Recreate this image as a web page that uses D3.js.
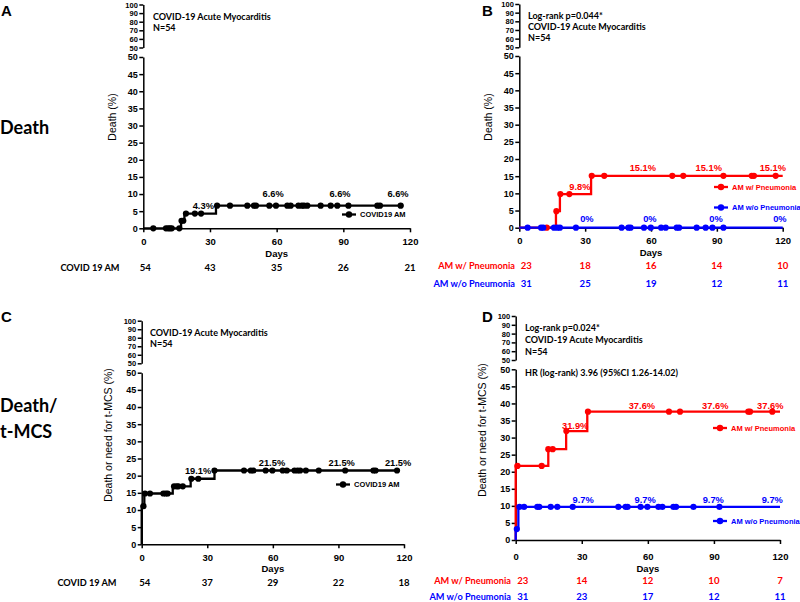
<!DOCTYPE html>
<html>
<head>
<meta charset="utf-8">
<script src="https://cdn.jsdelivr.net/npm/d3@7"></script>
<style>
body { margin: 0; background: #fff; }
</style>
</head>
<body>
<script>
var width = 800;
var height = 602;

// shared axes
var dayTicks = [0, 30, 60, 90, 120];
var lowTicks = [0, 5, 10, 15, 20, 25, 30, 35, 40, 45, 50];
var highTicks = [50, 60, 70, 80, 90, 100];

// A - death, all patients
var deathAllDays = [17, 18.5, 32.7];
var deathAllPct = [2.2, 4.3, 6.6];
var deathAllEnd = 117;
var deathAllCensor = [4.5, 10.2, 11.2, 12, 12.8, 16.2, 17.2, 18, 19.2, 23.2, 26, 33.2, 39, 46.8, 49.8, 50.7,
  56.7, 59.7, 64.8, 66.3, 69.8, 71.3, 72.3, 73.8, 79.8, 84.3, 87.3, 92.3, 105.3, 106.5, 115.8];
var deathAllLabels = ["4.3%", "6.6%", "6.6%", "6.6%"];
var deathAllLabelDays = [27, 58.4, 88.5, 114.6];
var deathAllLabelPct = [4.3, 6.6, 6.6, 6.6];
var deathAllRisk = [54, 43, 35, 26, 21];

// B - death, with / without pneumonia
var deathPnDays = [16.7, 18.5, 32.7];
var deathPnPct = [4.8, 9.8, 15.1];
var deathPnCensor = [12.5, 16.9, 18.7, 22.8, 33, 38.7, 69.7, 74.7, 93, 105.9, 106.9, 116.8];
var deathPnLabels = ["9.8%", "15.1%", "15.1%", "15.1%"];
var deathPnLabelDays = [27.6, 56.3, 86.3, 115.5];
var deathPnLabelPct = [9.8, 15.1, 15.1, 15.1];
var deathPnRisk = [23, 18, 16, 14, 10];

var deathNoPnDays = [];
var deathNoPnPct = [];
var deathNoPnCensor = [3.8, 9.9, 10.9, 15.8, 17.3, 18.5, 25.8, 46.6, 49.7, 50.7, 56.8, 59.9, 64.6, 66.7,
  71.7, 72.8, 80.8, 84.9, 88, 93];
var deathNoPnLabels = ["0%", "0%", "0%", "0%"];
var deathNoPnLabelDays = [30.8, 59.5, 89.6, 118.7];
var deathNoPnLabelPct = [0, 0, 0, 0];
var deathNoPnRisk = [31, 25, 19, 12, 11];

// C - death or t-MCS, all patients
var mcsAllDays = [0, 1.2, 14.2, 22.4, 33.3];
var mcsAllPct = [11.1, 14.8, 16.9, 19.1, 21.5];
var mcsAllEnd = 118;
var mcsAllCensor = [0.8, 1.5, 3.8, 9.9, 11, 11.9, 14.8, 16, 16.8, 18.8, 22.7, 25.9, 33.3, 46.8, 49.9, 51.1,
  56.7, 59.8, 64.5, 66.4, 69.9, 71.3, 72.5, 75.1, 81, 93.1, 106, 107, 116.8];
var mcsAllLabels = ["19.1%", "21.5%", "21.5%", "21.5%"];
var mcsAllLabelDays = [25.8, 59.6, 91.5, 117.3];
var mcsAllLabelPct = [19.1, 21.5, 21.5, 21.5];
var mcsAllRisk = [54, 37, 29, 22, 18];

// D - death or t-MCS, with / without pneumonia
var mcsPnDays = [0, 14.8, 22.9, 32.5];
var mcsPnPct = [21.7, 26.6, 31.9, 37.6];
var mcsPnCensor = [0.8, 11.8, 14.8, 16.8, 23, 32.8, 69.6, 74.6, 105.6, 106.4, 116.5];
var mcsPnLabels = ["31.9%", "37.6%", "37.6%", "37.6%"];
var mcsPnLabelDays = [27, 57.3, 90.6, 115.6];
var mcsPnLabelPct = [31.9, 37.6, 37.6, 37.6];
var mcsPnRisk = [23, 14, 12, 10, 7];

var mcsNoPnDays = [0, 1.2];
var mcsNoPnPct = [3.2, 9.7];
var mcsNoPnCensor = [0.5, 1.7, 3.8, 9.8, 10.7, 15.9, 18.9, 25.9, 46.6, 49.9, 50.8, 56.7, 59.8, 64.8, 66.6,
  71.6, 72.8, 80.7, 92.5];
var mcsNoPnLabels = ["9.7%", "9.7%", "9.7%", "9.7%"];
var mcsNoPnLabelDays = [30.6, 58.8, 89.7, 116.5];
var mcsNoPnLabelPct = [9.7, 9.7, 9.7, 9.7];
var mcsNoPnRisk = [31, 23, 17, 12, 11];

var red = "#ff0000";
var blue = "#0000ff";
var arial = "'Liberation Sans', Arial, sans-serif";
var calibri = "Lato, 'Open Sans', sans-serif";

var svg = d3.select("body")
  .append("svg")
  .attr("width", width)
  .attr("height", height);

function makeSeries(days, pct, end, censor, labels, labelDays, labelPct, risk, color, name, lift) {
  return {days: days, pct: pct, end: end, censor: censor, labels: labels, labelDays: labelDays,
    labelPct: labelPct, risk: risk, color: color, name: name, lift: lift};
}

function valueAt(s, t) {
  var v = 0;
  for (var i = 0; i < s.days.length; i++) {
    if (s.days[i] <= t) v = s.pct[i];
  }
  return v;
}

function drawPanel(p) {
  var x = d3.scaleLinear().domain([0, 120]).range([p.left, p.right]);
  var yLow = d3.scaleLinear().domain([0, 50]).range([p.y0, p.y50]);
  var yHigh = d3.scaleLinear().domain([50, 100]).range([p.u50, p.u100]);
  var g = svg.append("g");

  // axes
  var ax = g.append("g")
    .attr("transform", "translate(0," + p.y0 + ")")
    .call(d3.axisBottom(x).tickValues(dayTicks).tickSize(4).tickSizeOuter(0).tickPadding(p.xPad));
  var ayl = g.append("g")
    .attr("transform", "translate(" + p.left + ",0)")
    .call(d3.axisLeft(yLow).tickValues(lowTicks).tickSize(4).tickSizeOuter(0).tickPadding(1.5));
  var ayh = g.append("g")
    .attr("transform", "translate(" + p.left + ",0)")
    .call(d3.axisLeft(yHigh).tickValues(highTicks).tickSize(4).tickSizeOuter(0).tickPadding(1.5));
  [ax, ayl, ayh].forEach(function(a) {
    a.selectAll("path, line").attr("stroke", "#000").attr("stroke-width", 1.5);
    a.selectAll("text").attr("fill", "#000").attr("font-family", arial).attr("font-weight", "bold");
  });
  ax.selectAll("text").attr("font-size", 9.5);
  ayl.selectAll("text").attr("font-size", 9);
  ayh.selectAll("text").attr("font-size", 7.5).attr("dy", "0.34em");

  g.append("text")
    .attr("x", (p.left + p.right) / 2).attr("y", p.daysY)
    .attr("text-anchor", "middle")
    .attr("font-family", arial).attr("font-weight", "bold").attr("font-size", 9.5)
    .text("Days");

  g.append("text")
    .attr("transform", "translate(" + p.yLabelX + "," + p.yLabelY + ") rotate(-90)")
    .attr("text-anchor", "middle")
    .attr("font-family", arial).attr("font-size", 10.5)
    .text(p.yLabel);

  // annotations
  p.notes.forEach(function(t, i) {
    g.append("text")
      .attr("x", p.noteX).attr("y", p.noteY[i])
      .attr("font-family", calibri).attr("font-weight", "bold").attr("font-size", 9)
      .text(t);
  });

  var line = d3.line()
    .x(function(d) { return x(d[0]); })
    .y(function(d) { return yLow(d[1]); })
    .curve(d3.curveStepAfter);

  p.series.forEach(function(s) {
    var pts = [[0, 0]];
    s.days.forEach(function(d, i) { pts.push([d, s.pct[i]]); });
    pts.push([s.end, s.pct.length ? s.pct[s.pct.length - 1] : 0]);
    g.append("path")
      .attr("d", line(pts))
      .attr("fill", "none")
      .attr("stroke", s.color)
      .attr("stroke-width", 2.3);
  });

  p.series.forEach(function(s) {
    g.selectAll(null)
      .data(s.censor)
      .enter()
      .append("circle")
      .attr("cx", function(d) { return x(d); })
      .attr("cy", function(d) { return yLow(valueAt(s, d)); })
      .attr("r", 3.1)
      .attr("fill", s.color);

    g.selectAll(null)
      .data(s.labels)
      .enter()
      .append("text")
      .attr("x", function(d, i) { return x(s.labelDays[i]); })
      .attr("y", function(d, i) { return yLow(s.labelPct[i]) - s.lift[i]; })
      .attr("text-anchor", "middle")
      .attr("font-family", arial).attr("font-weight", "bold").attr("font-size", 9.3)
      .attr("fill", s.color)
      .text(function(d) { return d; });
  });

  // legend
  p.series.forEach(function(s, i) {
    var ly = p.legendY[i];
    g.append("line")
      .attr("x1", p.legendX - 7).attr("x2", p.legendX + 7)
      .attr("y1", ly).attr("y2", ly)
      .attr("stroke", s.color).attr("stroke-width", 2.3);
    g.append("circle")
      .attr("cx", p.legendX).attr("cy", ly).attr("r", 3.2).attr("fill", s.color);
    g.append("text")
      .attr("x", p.legendX + 11).attr("y", ly + 2.7)
      .attr("font-family", arial).attr("font-weight", "bold").attr("font-size", 7.5)
      .attr("fill", s.color)
      .text(s.name);
  });

  // number at risk
  p.series.forEach(function(s, i) {
    var ry = p.riskY[i];
    g.append("text")
      .attr("x", p.riskLabelX).attr("y", ry)
      .attr("text-anchor", p.riskAnchor)
      .attr("font-family", calibri).attr("font-weight", "bold").attr("font-size", 9.2)
      .attr("fill", s.color)
      .text(p.riskNames[i]);
    g.selectAll(null)
      .data(s.risk)
      .enter()
      .append("text")
      .attr("x", function(d, j) { return x(dayTicks[j]) + (j === 0 ? p.riskFirstShift : 0); })
      .attr("y", ry)
      .attr("text-anchor", "middle")
      .attr("font-family", calibri).attr("font-weight", "bold").attr("font-size", 9.6)
      .attr("fill", s.color)
      .text(function(d) { return d; });
  });
}

var notes1 = ["COVID-19 Acute Myocarditis", "N=54"];

drawPanel({
  left: 143.3, right: 410, y0: 228.3, y50: 57, u50: 47.5, u100: 4.5, xPad: 5.5,
  daysY: 256.5, yLabel: "Death (%)", yLabelX: 116, yLabelY: 117,
  notes: notes1, noteX: 153, noteY: [19.5, 30.5],
  legendX: 349, legendY: [214.5],
  riskLabelX: 90, riskAnchor: "middle", riskY: [271], riskNames: ["COVID 19 AM"], riskFirstShift: 2,
  series: [makeSeries(deathAllDays, deathAllPct, deathAllEnd, deathAllCensor, deathAllLabels,
    deathAllLabelDays, deathAllLabelPct, deathAllRisk, "#000", "COVID19 AM", [4.5, 9, 9, 9])]
});

drawPanel({
  left: 519.3, right: 782.7, y0: 227.7, y50: 56, u50: 47.3, u100: 4, xPad: 5.5,
  daysY: 255.5, yLabel: "Death (%)", yLabelX: 492, yLabelY: 117,
  notes: ["Log-rank p=0.044*"].concat(notes1), noteX: 528, noteY: [18.5, 30, 41],
  legendX: 721, legendY: [187, 207.5],
  riskLabelX: 515, riskAnchor: "end", riskY: [268.5, 286.5], riskNames: ["AM w/ Pneumonia", "AM w/o Pneumonia"],
  riskFirstShift: 7,
  series: [
    makeSeries(deathPnDays, deathPnPct, 120, deathPnCensor, deathPnLabels, deathPnLabelDays,
      deathPnLabelPct, deathPnRisk, red, "AM w/ Pneumonia", [4.5, 5, 5, 5]),
    makeSeries(deathNoPnDays, deathNoPnPct, 120, deathNoPnCensor, deathNoPnLabels, deathNoPnLabelDays,
      deathNoPnLabelPct, deathNoPnRisk, blue, "AM w/o Pneumonia", [6, 6, 6, 6])
  ]
});

drawPanel({
  left: 141.7, right: 404, y0: 544.3, y50: 372.7, u50: 363.3, u100: 320.7, xPad: 5.5,
  daysY: 572, yLabel: "Death or need for t-MCS (%)", yLabelX: 112, yLabelY: 435,
  notes: notes1, noteX: 150, noteY: [335.5, 346.5],
  legendX: 343, legendY: [484.5],
  riskLabelX: 87, riskAnchor: "middle", riskY: [586], riskNames: ["COVID 19 AM"], riskFirstShift: 3,
  series: [makeSeries(mcsAllDays, mcsAllPct, mcsAllEnd, mcsAllCensor, mcsAllLabels, mcsAllLabelDays,
    mcsAllLabelPct, mcsAllRisk, "#000", "COVID19 AM", [4.5, 5, 5, 5])]
});

drawPanel({
  left: 515.7, right: 780, y0: 540, y50: 369.3, u50: 360, u100: 316, xPad: 9,
  daysY: 572, yLabel: "Death or need for t-MCS (%)", yLabelX: 486, yLabelY: 430,
  notes: ["Log-rank p=0.024*"].concat(notes1).concat(["HR (log-rank) 3.96 (95%CI 1.26-14.02)"]),
  noteX: 525, noteY: [331, 342.5, 354.5, 376],
  legendX: 720, legendY: [428, 521],
  riskLabelX: 511, riskAnchor: "end", riskY: [584, 600], riskNames: ["AM w/ Pneumonia", "AM w/o Pneumonia"],
  riskFirstShift: 7,
  series: [
    makeSeries(mcsPnDays, mcsPnPct, 120, mcsPnCensor, mcsPnLabels, mcsPnLabelDays, mcsPnLabelPct,
      mcsPnRisk, red, "AM w/ Pneumonia", [2.5, 3, 3, 3]),
    makeSeries(mcsNoPnDays, mcsNoPnPct, 120, mcsNoPnCensor, mcsNoPnLabels, mcsNoPnLabelDays,
      mcsNoPnLabelPct, mcsNoPnRisk, blue, "AM w/o Pneumonia", [3.5, 3.5, 3.5, 3.5])
  ]
});

// panel letters and row titles
var letters = ["A", "B", "C", "D"];
var letterX = [1, 482, 1, 482];
var letterY = [15.5, 15.5, 322, 322];
svg.selectAll(null)
  .data(letters)
  .enter()
  .append("text")
  .attr("x", function(d, i) { return letterX[i]; })
  .attr("y", function(d, i) { return letterY[i]; })
  .attr("font-family", arial).attr("font-weight", "bold").attr("font-size", 15)
  .text(function(d) { return d; });

var rowTitles = ["Death", "Death/", "t-MCS"];
var rowTitleY = [133.5, 412, 437.5];
svg.selectAll(null)
  .data(rowTitles)
  .enter()
  .append("text")
  .attr("x", 0)
  .attr("y", function(d, i) { return rowTitleY[i]; })
  .attr("font-family", calibri).attr("font-weight", "bold").attr("font-size", 18)
  .text(function(d) { return d; });
</script>
</body>
</html>
